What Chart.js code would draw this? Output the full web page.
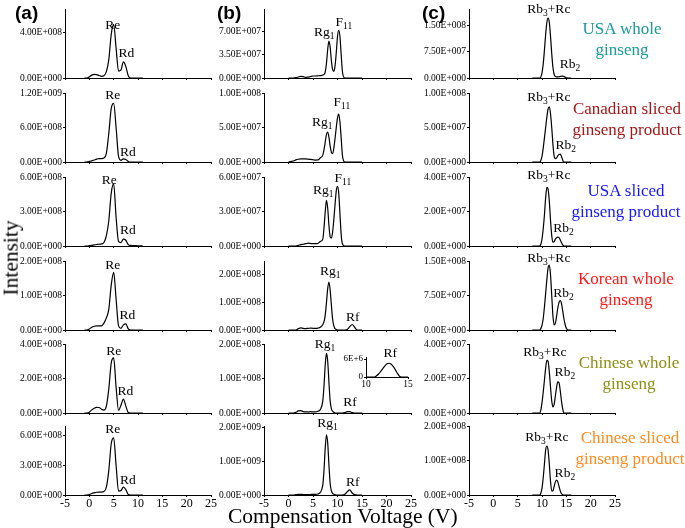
<!DOCTYPE html>
<html>
<head>
<meta charset="utf-8">
<script src="https://cdn.jsdelivr.net/npm/chart.js"></script>
<style>
  body { margin: 0; background: #fff; }
  #page { position: relative; width: 685px; height: 528px; overflow: hidden; font-family: "Liberation Serif", "Times New Roman", serif; }
  canvas { position: absolute; }
  .tag { position: absolute; font: bold 19px "Liberation Sans", Arial, sans-serif; line-height: 20px; }
  .sample { position: absolute; width: 130px; text-align: center; font-size: 17px; line-height: 21px; white-space: nowrap; }
  .title { position: absolute; font-size: 21.5px; white-space: nowrap; line-height: 24px; }
</style>
</head>
<body>
<div id="page"></div>
<script>
// compensation voltage grids (V), one per column
const voltsA = [-1, -0.5, 0, 0.5, 1, 1.5, 2, 2.5, 3, 3.5, 4, 4.5, 5, 5.5, 6, 6.5, 7, 7.5, 8, 8.5, 9, 9.5, 10, 10.5, 11];
const voltsB = [0, 1, 1.5, 2, 2.5, 3, 3.5, 4, 4.5, 5, 5.5, 6, 6.5, 7, 7.25, 7.5, 7.75, 8, 8.25, 8.5, 8.75, 9, 9.25, 9.5, 9.75, 10, 10.25, 10.5, 10.75, 11, 11.5, 12, 12.5, 13, 13.5, 14, 15];
const voltsC = [8, 9, 9.5, 9.75, 10, 10.25, 10.5, 10.75, 11, 11.25, 11.5, 11.75, 12, 12.25, 12.5, 12.75, 13, 13.25, 13.5, 13.75, 14, 14.25, 14.5, 14.75, 15, 15.5, 16];
const voltsInset = [10, 11, 11.25, 11.5, 11.75, 12, 12.25, 12.5, 12.75, 13, 13.25, 13.5, 13.75, 14, 14.25, 15];

const samples = [
  ["USA whole", "ginseng"],
  ["Canadian sliced", "ginseng product"],
  ["USA sliced", "ginseng product"],
  ["Korean whole", "ginseng"],
  ["Chinese whole", "ginseng"],
  ["Chinese sliced", "ginseng product"],
];
const sampleColors = ["#1c9a9a", "#a51818", "#1818ff", "#ff1818", "#8e8e14", "#ff8a1e"];

// column (a): Re / Rd, intensity in units of 1E+8
const unitsA = [1e8, 1e8, 1e8, 1e8, 1e8, 1e8];
const aUsaWhole   = [0, 0, 0.1, 0.25, 0.32, 0.3, 0.22, 0.15, 0.2, 0.55, 1.6, 3.8, 4.66, 2.6, 0.6, 0.7, 1.4, 1.0, 0.2, 0, 0, 0, 0, 0, 0];
const aCanSliced  = [0, 0, 0.1, 0.2, 0.35, 0.5, 0.6, 0.6, 0.7, 1.5, 5.0, 9.3, 10.2, 6.0, 1.0, 0.3, 0.55, 0.45, 0.1, 0, 0, 0, 0, 0, 0];
const aUsaSliced  = [0, 0, 0.03, 0.06, 0.1, 0.13, 0.15, 0.18, 0.3, 0.9, 2.2, 4.6, 5.4, 2.5, 0.4, 0.3, 0.6, 0.5, 0.12, 0.05, 0.04, 0.03, 0.02, 0.01, 0];
const aKorWhole   = [0, 0, 0.03, 0.08, 0.11, 0.12, 0.12, 0.12, 0.2, 0.35, 0.6, 1.3, 1.67, 0.9, 0.12, 0.05, 0.15, 0.18, 0.03, 0, 0, 0, 0, 0, 0];
const aChnWhole   = [0, 0, 0.05, 0.18, 0.28, 0.33, 0.32, 0.22, 0.17, 0.4, 1.4, 2.9, 3.19, 1.5, 0.15, 0.45, 0.81, 0.4, 0.03, 0, 0, 0, 0, 0, 0];
const aChnSliced  = [0, 0, 0.05, 0.15, 0.22, 0.28, 0.3, 0.3, 0.35, 0.8, 2.5, 5.2, 5.8, 3.0, 0.4, 0.45, 0.8, 0.55, 0.05, 0, 0, 0, 0, 0, 0];

// column (b): Rg1 / F11 / Rf
const unitsB = [1e7, 1e7, 1e7, 1e8, 1e8, 1e9];
const bUsaWhole   = [0, 0, 0.05, 0.15, 0.25, 0.2, 0.1, 0.12, 0.22, 0.3, 0.3, 0.33, 0.35, 0.45, 0.5, 0.9, 2.2, 4.3, 5.5, 4.6, 2.6, 1.3, 1.0, 1.8, 3.8, 6.2, 7.1, 6.2, 3.5, 1.0, 0, 0, 0, 0, 0, 0, 0];
const bCanSliced  = [0, 0.15, 0.3, 0.4, 0.45, 0.45, 0.45, 0.42, 0.38, 0.33, 0.28, 0.3, 0.6, 1.0, 1.8, 2.9, 4.0, 4.35, 3.6, 2.3, 1.4, 1.2, 2.0, 3.4, 5.0, 6.4, 6.95, 5.8, 3.5, 1.0, 0, 0, 0, 0, 0, 0, 0];
const bUsaSliced  = [0, 0, 0, 0.05, 0.12, 0.15, 0.2, 0.25, 0.22, 0.2, 0.2, 0.22, 0.4, 0.6, 1.6, 3.0, 3.97, 3.3, 1.8, 0.8, 0.68, 1.2, 2.3, 3.6, 4.8, 5.18, 4.6, 2.8, 1.0, 0.2, 0, 0, 0, 0, 0, 0, 0];
const bKorWhole   = [0, 0, 0, 0.05, 0.08, 0.06, 0.05, 0.06, 0.07, 0.06, 0.06, 0.07, 0.1, 0.2, 0.3, 0.55, 1.0, 1.5, 1.74, 1.45, 0.9, 0.4, 0.15, 0.05, 0.02, 0, 0, 0, 0, 0, 0, 0.02, 0.12, 0.2, 0.1, 0, 0];
const bChnWhole   = [0, 0, 0.02, 0.06, 0.07, 0.04, 0.03, 0.03, 0.04, 0.03, 0.03, 0.05, 0.1, 0.35, 0.8, 1.4, 1.73, 1.5, 0.9, 0.35, 0.12, 0.05, 0.02, 0, 0, 0, 0, 0, 0, 0, 0.01, 0.04, 0.04, 0.01, 0, 0, 0];
const bChnSliced  = [0, 0, 0.01, 0.02, 0.02, 0.015, 0.01, 0.01, 0.015, 0.02, 0.02, 0.03, 0.08, 0.3, 0.75, 1.4, 1.79, 1.55, 0.9, 0.35, 0.12, 0.05, 0.02, 0.01, 0, 0, 0, 0, 0, 0, 0.02, 0.1, 0.15, 0.06, 0.01, 0, 0];
// inset of the Chinese whole ginseng Rf peak, units of 1E+6
const rfInset     = [0, 0, 0.4, 1.0, 1.9, 2.8, 3.7, 4.4, 4.6, 4.3, 3.5, 2.4, 1.2, 0.2, 0, 0];

// column (c): Rb3+Rc / Rb2
const unitsC = [1e7, 1e7, 1e7, 1e7, 1e7, 1e7];
const cUsaWhole   = [0, 0, 0, 0.3, 1.5, 4, 8, 12.5, 16, 17.2, 16, 12, 7, 3, 1, 0.4, 0.3, 0.3, 0.35, 0.45, 0.5, 0.55, 0.45, 0.25, 0.05, 0, 0];
const cCanSliced  = [0, 0, 0, 0.2, 0.8, 2, 3.5, 5, 6.5, 7.7, 8.0, 7, 5, 2.5, 0.8, 0.5, 0.6, 0.9, 1.1, 1.13, 0.8, 0.3, 0, 0, 0, 0, 0];
const cUsaSliced  = [0, 0, 0, 0.1, 0.4, 1, 1.8, 2.8, 3.4, 3.3, 2.6, 1.5, 0.6, 0.22, 0.25, 0.4, 0.48, 0.51, 0.48, 0.35, 0.2, 0.07, 0, 0, 0, 0, 0];
const cKorWhole   = [0, 0, 0, 0.3, 1, 2.5, 5, 8, 11, 13.5, 14.1, 12, 7.5, 3, 1.1, 1.5, 3, 4.8, 6.0, 6.4, 5.8, 4.2, 2.5, 1.2, 0.4, 0, 0];
const cChnWhole   = [0, 0, 0, 0.15, 0.6, 1.2, 1.9, 2.6, 3.05, 3.0, 2.4, 1.5, 0.7, 0.35, 0.5, 1.0, 1.5, 1.8, 1.75, 1.3, 0.7, 0.25, 0, 0, 0, 0, 0];
const cChnSliced  = [0, 0, 0, 0.5, 2, 5, 9, 13, 14.2, 13, 9, 4, 1.2, 1.2, 2.5, 3.8, 4.35, 3.8, 2.5, 1.2, 0.4, 0.1, 0, 0, 0, 0, 0];

// axis limits (panel units) and tick labels
const xTicks = [-5, 0, 5, 10, 15, 20, 25];
const yMaxA = [6, 12, 6, 2, 4, 7];
const yMaxB = [10.3, 10, 6, 2.5, 2, 2.05];
const yMaxC = [19.8, 10, 4, 15, 4, 20];
const yLabelsA = [
  ["0.00E+000", "4.00E+008"],
  ["0.00E+000", "6.00E+008", "1.20E+009"],
  ["0.00E+000", "3.00E+008", "6.00E+008"],
  ["0.00E+000", "1.00E+008", "2.00E+008"],
  ["0.00E+000", "2.00E+008", "4.00E+008"],
  ["0.00E+000", "3.00E+008", "6.00E+008"],
];
const yLabelsB = [
  ["0.00E+000", "3.50E+007", "7.00E+007"],
  ["0.00E+000", "5.00E+007", "1.00E+008"],
  ["0.00E+000", "3.00E+007", "6.00E+007"],
  ["0.00E+000", "1.00E+008", "2.00E+008"],
  ["0.00E+000", "1.00E+008", "2.00E+008"],
  ["0.00E+000", "1.00E+009", "2.00E+009"],
];
const yLabelsC = [
  ["0.00E+000", "7.50E+007", "1.50E+008"],
  ["0.00E+000", "5.00E+007", "1.00E+008"],
  ["0.00E+000", "2.00E+007", "4.00E+007"],
  ["0.00E+000", "7.50E+007", "1.50E+008"],
  ["0.00E+000", "2.00E+007", "4.00E+007"],
  ["0.00E+000", "1.00E+008", "2.00E+008"],
];
const insetLabels = ["0", "6E+6"];
const insetTicks = [10, 15];

// peak names: x in V, dy = pixels above the baseline
const peaksA = [
  [{ t: "Re", x: 4.8, dy: 53 }, { t: "Rd", x: 7.6, dy: 25 }],
  [{ t: "Re", x: 4.8, dy: 67 }, { t: "Rd", x: 7.9, dy: 10 }],
  [{ t: "Re", x: 4.1, dy: 66 }, { t: "Rd", x: 7.9, dy: 16 }],
  [{ t: "Re", x: 4.8, dy: 65 }, { t: "Rd", x: 7.8, dy: 15 }],
  [{ t: "Re", x: 5.0, dy: 62 }, { t: "Rd", x: 7.4, dy: 22 }],
  [{ t: "Re", x: 4.8, dy: 66 }, { t: "Rd", x: 7.9, dy: 15 }],
];
const peaksB = [
  [{ t: "Rg_{1}", x: 7.3, dy: 46 }, { t: "F_{11}", x: 11.3, dy: 56 }],
  [{ t: "Rg_{1}", x: 6.9, dy: 40 }, { t: "F_{11}", x: 10.9, dy: 60 }],
  [{ t: "Rg_{1}", x: 7.1, dy: 56 }, { t: "F_{11}", x: 11.1, dy: 68 }],
  [{ t: "Rg_{1}", x: 8.5, dy: 59 }, { t: "Rf", x: 13.1, dy: 13 }],
  [{ t: "Rg_{1}", x: 7.45, dy: 69 }, { t: "Rf", x: 12.55, dy: 11 }],
  [{ t: "Rg_{1}", x: 7.95, dy: 72 }, { t: "Rf", x: 13.1, dy: 13 }],
];
const peaksC = [
  [{ t: "Rb_{3}+Rc", x: 11.4, dy: 69 }, { t: "Rb_{2}", x: 15.75, dy: 14 }],
  [{ t: "Rb_{3}+Rc", x: 11.4, dy: 65 }, { t: "Rb_{2}", x: 14.9, dy: 17 }],
  [{ t: "Rb_{3}+Rc", x: 11.4, dy: 71 }, { t: "Rb_{2}", x: 14.4, dy: 18 }],
  [{ t: "Rb_{3}+Rc", x: 11.4, dy: 72 }, { t: "Rb_{2}", x: 14.4, dy: 37 }],
  [{ t: "Rb_{3}+Rc", x: 10.6, dy: 61 }, { t: "Rb_{2}", x: 14.7, dy: 41 }],
  [{ t: "Rb_{3}+Rc", x: 11.0, dy: 58 }, { t: "Rb_{2}", x: 14.7, dy: 22 }],
];

const columns = [
  { volts: voltsA, series: [aUsaWhole, aCanSliced, aUsaSliced, aKorWhole, aChnWhole, aChnSliced], units: unitsA, yMax: yMaxA, labels: yLabelsA, peaks: peaksA },
  { volts: voltsB, series: [bUsaWhole, bCanSliced, bUsaSliced, bKorWhole, bChnWhole, bChnSliced], units: unitsB, yMax: yMaxB, labels: yLabelsB, peaks: peaksB },
  { volts: voltsC, series: [cUsaWhole, cCanSliced, cUsaSliced, cKorWhole, cChnWhole, cChnSliced], units: unitsC, yMax: yMaxC, labels: yLabelsC, peaks: peaksC },
];

// layout
const rowBase = [78, 162, 246, 330, 413, 495];
const colLeft = [0, 212, 417];
const axisW = [65, 52, 52];
const plotW = [146, 147, 146];
const plotH = 69;
const padTop = 14;
const serif = "'Liberation Serif', 'Times New Roman', serif";

const page = document.getElementById("page");

const peakText = {
  id: "peakText",
  afterDatasetsDraw(chart, args, opts) {
    const ctx = chart.ctx;
    const xs = chart.scales.x;
    const bottom = chart.chartArea.bottom;
    ctx.save();
    ctx.fillStyle = "#000";
    ctx.textBaseline = "middle";
    ctx.textAlign = "left";
    (opts.items || []).forEach((item) => {
      const parts = item.t.split(/(_\{[^}]*\})/).filter(Boolean).map((p) =>
        p.startsWith("_{") ? { s: p.slice(2, -1), sub: true } : { s: p, sub: false });
      let total = 0;
      parts.forEach((p) => {
        ctx.font = `${p.sub ? opts.subSize : opts.size}px ${serif}`;
        p.w = ctx.measureText(p.s).width;
        total += p.w;
      });
      let px = xs.getPixelForValue(item.x) - total / 2;
      const py = bottom - item.dy;
      parts.forEach((p) => {
        ctx.font = `${p.sub ? opts.subSize : opts.size}px ${serif}`;
        ctx.fillText(p.s, px, p.sub ? py + opts.subSize * 0.5 : py);
        px += p.w;
      });
    });
    ctx.restore();
  },
};

function addPanel(opt) {
  const cv = document.createElement("canvas");
  cv.width = opt.w;
  cv.height = opt.h;
  cv.style.left = opt.left + "px";
  cv.style.top = opt.top + "px";
  page.appendChild(cv);
  const tickVals = opt.labels.map((s) => parseFloat(s) / opt.unit);
  new Chart(cv, {
    type: "line",
    data: {
      datasets: [{
        data: opt.volts.map((v, i) => ({ x: v, y: opt.values[i] })),
        borderColor: "#000",
        borderWidth: 1.2,
        pointRadius: 0,
        fill: false,
        cubicInterpolationMode: "monotone",
      }],
    },
    options: {
      responsive: false,
      animation: false,
      devicePixelRatio: 1,
      layout: { padding: { top: opt.padTop, right: opt.padRight, bottom: 6, left: 0 } },
      plugins: {
        legend: { display: false },
        tooltip: { enabled: false },
        peakText: { items: opt.peaks, size: opt.textSize, subSize: opt.subSize },
      },
      scales: {
        x: {
          type: "linear",
          min: opt.xMin,
          max: opt.xMax,
          afterBuildTicks: (s) => { s.ticks = opt.xTicks.map((v) => ({ value: v })); },
          afterFit: (s) => { s.height = opt.xAxisH; },
          ticks: { display: opt.showX, color: "#000", padding: 0, maxRotation: 0, autoSkip: false, font: { family: serif, size: opt.xFont } },
          grid: { drawOnChartArea: false, drawTicks: true, tickLength: 2, color: "#000" },
          border: { display: true, color: "#000", width: 1 },
        },
        y: {
          min: 0,
          max: opt.yMax,
          afterBuildTicks: (s) => { s.ticks = tickVals.map((v) => ({ value: v })); },
          afterFit: (s) => { s.width = opt.axisW; },
          ticks: { color: "#000", padding: 1, font: { family: serif, size: opt.yFont }, callback: (v, i) => opt.labels[i] },
          grid: { drawOnChartArea: false, drawTicks: true, tickLength: 2, color: "#000" },
          border: { display: true, color: "#000", width: 1 },
        },
      },
    },
    plugins: [peakText],
  });
}

columns.forEach((col, c) => {
  col.series.forEach((values, r) => {
    const last = r === rowBase.length - 1;
    const xAxisH = last ? 18 : 3;
    addPanel({
      left: colLeft[c],
      top: rowBase[r] - plotH - padTop,
      w: axisW[c] + plotW[c] + 8,
      h: padTop + plotH + xAxisH + 6,
      padTop: padTop,
      padRight: 8,
      axisW: axisW[c],
      xAxisH: xAxisH,
      showX: last,
      xMin: -5,
      xMax: 25,
      xTicks: xTicks,
      xFont: 12,
      yFont: 9.5,
      volts: col.volts,
      values: values,
      unit: col.units[r],
      yMax: col.yMax[r],
      labels: col.labels[r],
      peaks: col.peaks[r],
      textSize: 13.5,
      subSize: 9.5,
    });
  });
});

// inset: Rf peak of Chinese whole ginseng, 10-15 V
addPanel({
  left: 335,
  top: 377 - 20 - 12,
  w: 31 + 42 + 6,
  h: 12 + 20 + 12 + 6,
  padTop: 12,
  padRight: 6,
  axisW: 31,
  xAxisH: 12,
  showX: true,
  xMin: 10,
  xMax: 15,
  xTicks: insetTicks,
  xFont: 9.5,
  yFont: 9,
  volts: voltsInset,
  values: rfInset,
  unit: 1e6,
  yMax: 6.7,
  labels: insetLabels,
  peaks: [{ t: "Rf", x: 12.9, dy: 24 }],
  textSize: 13.5,
  subSize: 9.5,
});

// sample names next to column (c)
const sampleCenters = [[622, 28], [627, 108], [626, 190], [626, 278], [629, 362], [630, 437]];
samples.forEach((lines, r) => {
  const d = document.createElement("div");
  d.className = "sample";
  d.style.left = sampleCenters[r][0] - 65 + "px";
  d.style.top = sampleCenters[r][1] - 10.5 + "px";
  d.style.color = sampleColors[r];
  d.innerHTML = lines.join("<br>");
  page.appendChild(d);
});

// panel letters and axis titles
[["(a)", 15], ["(b)", 217], ["(c)", 422]].forEach(([t, x]) => {
  const d = document.createElement("div");
  d.className = "tag";
  d.style.left = x + "px";
  d.style.top = "3px";
  d.textContent = t;
  page.appendChild(d);
});

const yTitle = document.createElement("div");
yTitle.className = "title";
yTitle.textContent = "Intensity";
page.appendChild(yTitle);
yTitle.style.left = 10 - yTitle.offsetWidth / 2 + "px";
yTitle.style.top = 258 - 12 + "px";
yTitle.style.transform = "rotate(-90deg)";

const xTitle = document.createElement("div");
xTitle.className = "title";
xTitle.textContent = "Compensation Voltage (V)";
page.appendChild(xTitle);
xTitle.style.left = 343 - xTitle.offsetWidth / 2 + "px";
xTitle.style.top = 516 - 12 + "px";
</script>
</body>
</html>
